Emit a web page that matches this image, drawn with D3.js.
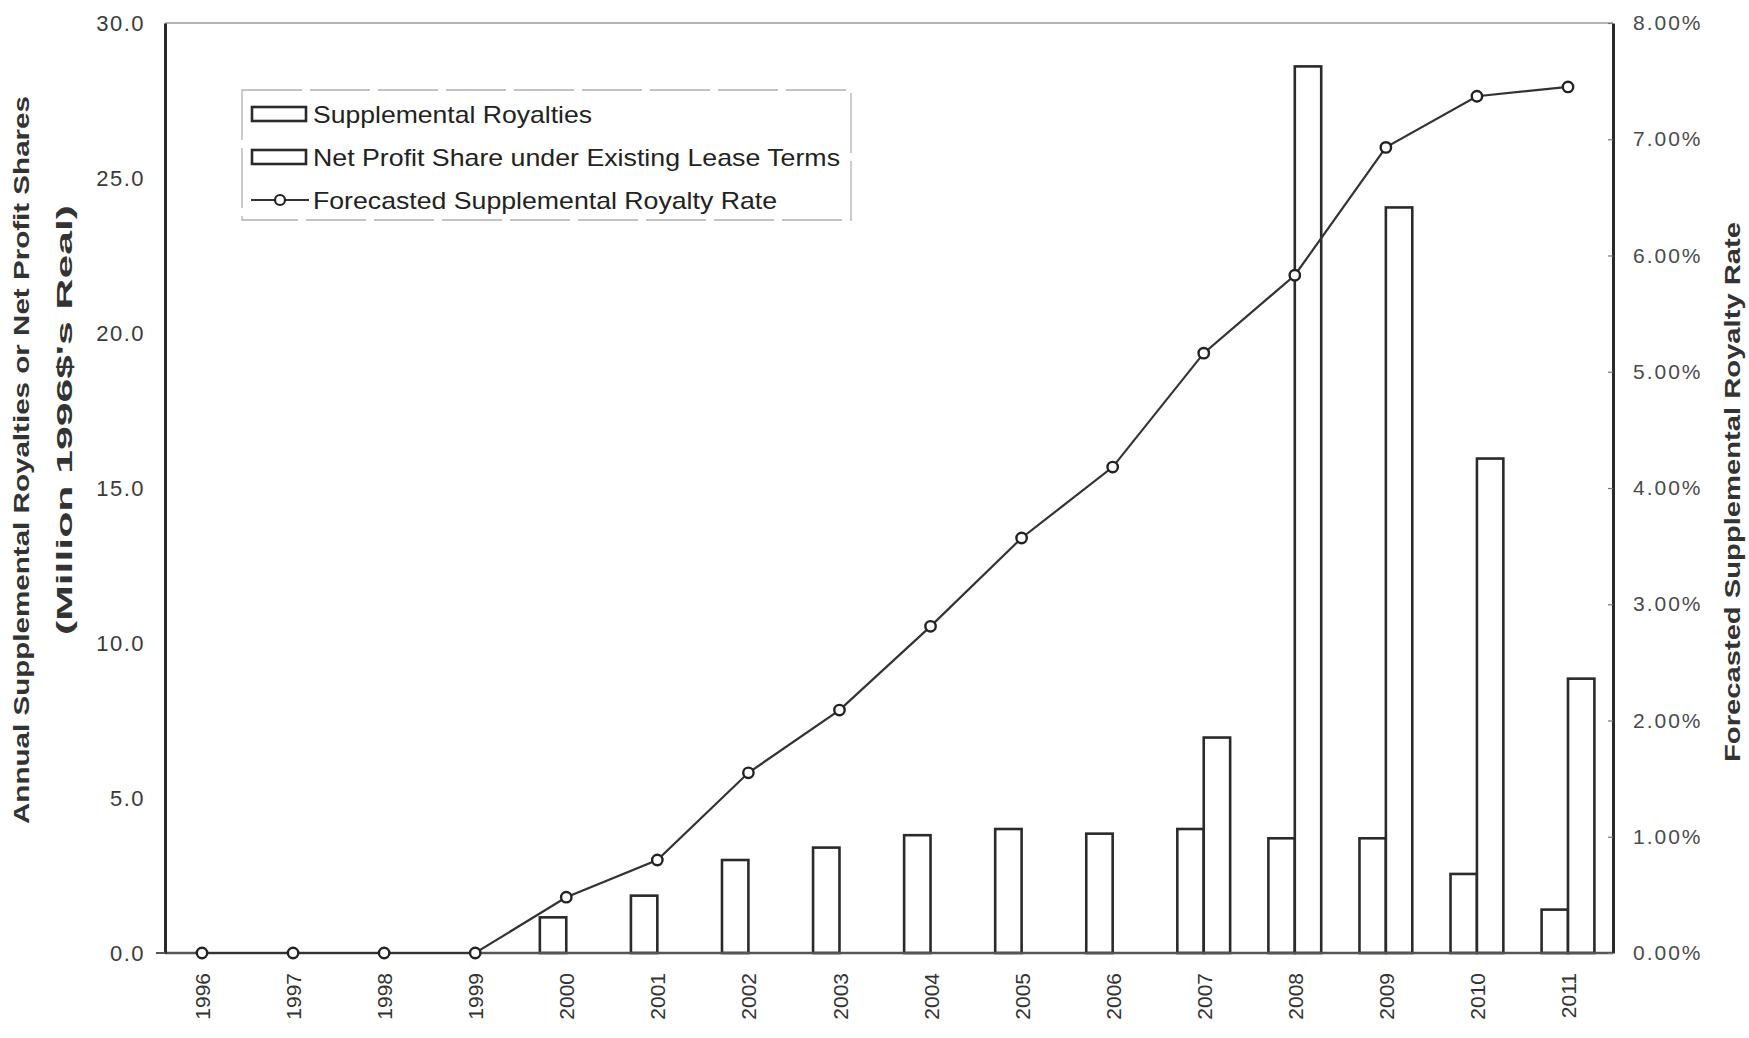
<!DOCTYPE html>
<html><head><meta charset="utf-8">
<script src="https://cdn.jsdelivr.net/npm/d3@7"></script>
<style>body{margin:0;background:#fff}svg{display:block}</style>
</head><body><div id="chart"></div>
<script>
const years = ["1996","1997","1998","1999","2000","2001","2002","2003","2004","2005","2006","2007","2008","2009","2010","2011"];
const supplementalRoyalties = [0,0,0,0,1.15,1.85,3.0,3.4,3.8,4.0,3.85,4.0,3.7,3.7,2.55,1.4];
const netProfitShare = [0,0,0,0,0,0,0,0,0,0,0,6.95,28.6,24.05,15.95,8.85];
const royaltyRate = [0,0,0,0,0.48,0.80,1.55,2.09,2.81,3.57,4.18,5.16,5.83,6.93,7.37,7.45];
const leftTicks = [0,5,10,15,20,25,30];
const rightTicks = [0,1,2,3,4,5,6,7,8];
const legendLabels = ["Supplemental Royalties","Net Profit Share under Existing Lease Terms","Forecasted Supplemental Royalty Rate"];
const leftTitle = ["Annual Supplemental Royalties or Net Profit Shares","(Million 1996$'s Real)"];
const rightTitle = "Forecasted Supplemental Royalty Rate";

const W = 1749, H = 1038;
const plot = {left:165, right:1613, top:23, bottom:953};
const ink = "#2a2a2a";
const svg = d3.select("#chart").append("svg").attr("width", W).attr("height", H)
  .style("font-family", "'Liberation Sans', Arial, Helvetica, sans-serif");

const x = d3.scalePoint().domain(years).range([202, 1568]);
const yL = d3.scaleLinear().domain([0, 30]).range([plot.bottom, plot.top]);
const yR = d3.scaleLinear().domain([0, 8]).range([plot.bottom, plot.top]);
const bw = x.step() * 0.29;

// top frame line
svg.append("line").attr("x1", plot.left).attr("x2", plot.right)
  .attr("y1", plot.top).attr("y2", plot.top)
  .attr("stroke", "#9a9a9a").attr("stroke-width", 1.6);

// bars
const rows = years.map((y, i) => ({year: y, sr: supplementalRoyalties[i], nps: netProfitShare[i], rate: royaltyRate[i]}));
const barG = svg.append("g");
barG.selectAll("rect.sr").data(rows.filter(d => d.sr > 0)).join("rect").attr("class", "sr")
  .attr("x", d => x(d.year) - bw).attr("width", bw)
  .attr("y", d => yL(d.sr)).attr("height", d => yL(0) - yL(d.sr))
  .attr("fill", "#fff").attr("stroke", ink).attr("stroke-width", 2.6);
barG.selectAll("rect.nps").data(rows.filter(d => d.nps > 0)).join("rect").attr("class", "nps")
  .attr("x", d => x(d.year)).attr("width", bw)
  .attr("y", d => yL(d.nps)).attr("height", d => yL(0) - yL(d.nps))
  .attr("fill", "#fff").attr("stroke", ink).attr("stroke-width", 2.6);

// baseline
svg.append("line").attr("x1", plot.left).attr("x2", plot.right)
  .attr("y1", yL(0)).attr("y2", yL(0)).attr("stroke", "#555").attr("stroke-width", 2.6);

// left axis
const axL = svg.append("g").attr("transform", `translate(${plot.left},0)`)
  .call(d3.axisLeft(yL).tickValues(leftTicks).tickFormat(d3.format(".1f")).tickSize(0).tickSizeOuter(0).tickPadding(20));
axL.select(".domain").attr("stroke", ink).attr("stroke-width", 3);
axL.selectAll("text").attr("font-size", 22).attr("fill", "#3a3a3a").style("letter-spacing", "1.5px")
  .style("font-family", "'Liberation Sans', Arial, sans-serif");
svg.append("line").attr("x1", plot.left - 9).attr("x2", plot.left).attr("y1", yL(0)).attr("y2", yL(0))
  .attr("stroke", "#555").attr("stroke-width", 2);

// right axis
const axR = svg.append("g").attr("transform", `translate(${plot.right},0)`)
  .call(d3.axisRight(yR).tickValues(rightTicks).tickFormat(d => d.toFixed(2) + "%").tickSize(-5).tickSizeOuter(0).tickPadding(20));
axR.select(".domain").attr("stroke", ink).attr("stroke-width", 3);
axR.selectAll(".tick line").attr("stroke", "#777").attr("stroke-width", 1.2);
axR.selectAll("text").attr("font-size", 21).attr("fill", "#4a4a4a").style("letter-spacing", "2px")
  .style("font-family", "'Liberation Sans', Arial, sans-serif");

// bottom axis labels
const axB = svg.append("g").attr("transform", `translate(0,${plot.bottom})`)
  .call(d3.axisBottom(x).tickSize(0).tickPadding(0));
axB.select(".domain").remove();
axB.selectAll("text").attr("font-size", 21).attr("fill", "#333")
  .style("font-family", "'Liberation Sans', Arial, sans-serif")
  .attr("text-anchor", "end")
  .attr("transform", "translate(0,20) rotate(-90)")
  .attr("x", 0).attr("y", 0).attr("dy", "0.36em");

// rate line
const line = d3.line().x(d => x(d.year)).y(d => yR(d.rate));
svg.append("path").datum(rows).attr("d", line).attr("fill", "none")
  .attr("stroke", "#333").attr("stroke-width", 2.2);
svg.selectAll("circle.pt").data(rows).join("circle").attr("class", "pt")
  .attr("cx", d => x(d.year)).attr("cy", d => yR(d.rate)).attr("r", 5.2)
  .attr("fill", "#fff").attr("stroke", "#222").attr("stroke-width", 2.4);

// legend
const lg = svg.append("g");
lg.append("rect").attr("x", 242).attr("y", 90).attr("width", 609).attr("height", 130)
  .attr("fill", "none").attr("stroke", "#b0b0b0").attr("stroke-width", 1.3).attr("stroke-dasharray", "60 8");
const rowY = [114, 157, 200];
const textLen = [279, 527, 464];
[0, 1].forEach(i => {
  lg.append("rect").attr("x", 252).attr("y", rowY[i] - 7).attr("width", 54).attr("height", 14)
    .attr("fill", "#fff").attr("stroke", ink).attr("stroke-width", 2.6);
});
lg.append("line").attr("x1", 251).attr("x2", 309).attr("y1", rowY[2]).attr("y2", rowY[2])
  .attr("stroke", "#333").attr("stroke-width", 2.2);
lg.append("circle").attr("cx", 280).attr("cy", rowY[2]).attr("r", 5)
  .attr("fill", "#fff").attr("stroke", "#222").attr("stroke-width", 2.2);
legendLabels.forEach((t, i) => {
  lg.append("text").attr("x", 313).attr("y", rowY[i]).attr("dy", "0.36em")
    .attr("font-size", 24).attr("fill", "#222")
    .attr("textLength", textLen[i]).attr("lengthAdjust", "spacingAndGlyphs").text(t);
});

// axis titles
const titleLen = [728, 430];
const titleX = [29, 72];
const titleCY = [460, 420];
leftTitle.forEach((t, i) => {
  svg.append("text").attr("transform", `translate(${titleX[i]},${titleCY[i]}) rotate(-90)`)
    .attr("text-anchor", "middle").attr("font-size", 22).attr("font-weight", "bold").attr("fill", "#333")
    .attr("textLength", titleLen[i]).attr("lengthAdjust", "spacingAndGlyphs").text(t);
});
svg.append("text").attr("transform", `translate(1740,492) rotate(-90)`)
  .attr("text-anchor", "middle").attr("font-size", 22).attr("font-weight", "bold").attr("fill", "#333")
  .attr("textLength", 540).attr("lengthAdjust", "spacingAndGlyphs").text(rightTitle);
</script></body></html>
